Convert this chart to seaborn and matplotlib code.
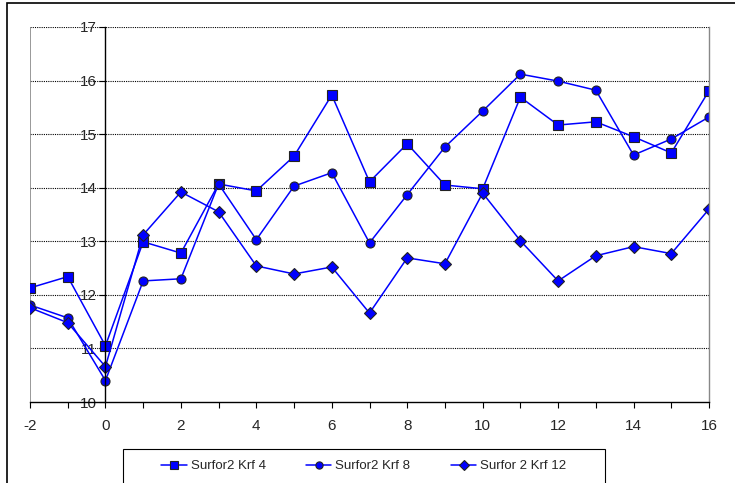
import pandas as pd
import seaborn as sns
import matplotlib.pyplot as plt
from matplotlib.patches import Rectangle

# Values
x_vals = list(range(-2, 17))
krf4 = [12.13, 12.34, 11.05, 12.99, 12.78, 14.07, 13.94, 14.59, 15.73, 14.11,
        14.82, 14.05, 13.98, 15.69, 15.17, 15.23, 14.95, 14.65, 15.81]
krf8 = [11.81, 11.57, 10.40, 12.26, 12.30, 14.07, 13.03, 14.03, 14.28, 12.97,
        13.87, 14.76, 15.43, 16.12, 15.99, 15.82, 14.61, 14.91, 15.32]
krf12 = [11.76, 11.48, 10.66, 13.12, 13.92, 13.55, 12.54, 12.39, 12.52, 11.66,
         12.69, 12.58, 13.90, 13.01, 12.26, 12.73, 12.90, 12.77, 13.60]
series_names = ["Surfor2 Krf 4", "Surfor2 Krf 8", "Surfor 2 Krf 12"]

df = pd.concat([
    pd.DataFrame({"x": x_vals, "y": vals, "series": name})
    for name, vals in zip(series_names, [krf4, krf8, krf12])
])

sns.set_style("white")
plt.rcParams["font.family"] = ["Liberation Sans", "DejaVu Sans"]
plt.rcParams["axes.unicode_minus"] = False

fig = plt.figure(figsize=(7.35, 4.83), dpi=100)
ax = fig.add_axes([30 / 735, 1 - 402 / 483, 679 / 735, 375 / 483])

sns.lineplot(data=df, x="x", y="y", hue="series", style="series",
             palette=["#0000FF"] * 3, markers=["s", "o", "D"], dashes=False,
             markersize=6.5, markeredgecolor="#222222", markeredgewidth=0.8,
             linewidth=1.1, ax=ax, legend=False)

ax.set_xlim(-2, 16)
ax.set_ylim(10, 17)
ax.set_xticks(range(-2, 17, 2))
ax.set_xticks(range(-2, 17), minor=True)
ax.set_yticks(range(10, 18))

# dotted gridlines
for yv in range(11, 18):
    ax.axhline(yv, color="black", linestyle=(0, (1, 1)), linewidth=0.8, zorder=0)
ax.axvline(-2, color="#888888", linewidth=1.2, zorder=0)

ax.spines["left"].set_position(("data", 0))
ax.spines["left"].set_color("black")
ax.spines["bottom"].set_color("black")
ax.spines["right"].set_color("#888888")
ax.spines["top"].set_visible(False)
for s in ax.spines.values():
    s.set_linewidth(1.0)

ax.tick_params(axis="both", which="both", direction="out", length=4,
               width=0.8, color="black", labelsize=11, pad=2, bottom=True, left=True)
ax.tick_params(axis="x", pad=8)
ax.set_xlabel("")
ax.set_ylabel("")

# legend: frameless entries inside a separately drawn box
handles = ax.lines[:3]
leg = fig.legend(handles, series_names, loc="center",
                 bbox_to_anchor=(364 / 735, 1 - 466 / 483), ncol=3,
                 frameon=False, fontsize=9.5,
                 handlelength=1.9, handletextpad=0.3, columnspacing=3.1,
                 markerscale=0.8)
fig.patches.append(Rectangle((123 / 735, -0.05), 482 / 735, 0.05 + 1 - 449 / 483,
                             transform=fig.transFigure, fill=False,
                             edgecolor="black", linewidth=0.8))

# outer chart border
fig.patches.append(Rectangle((7 / 735, -0.1), 1.2, 1 - 3 / 483 + 0.1,
                             transform=fig.transFigure, fill=False,
                             edgecolor="black", linewidth=1.2))

fig.savefig("out.png", dpi=100)
